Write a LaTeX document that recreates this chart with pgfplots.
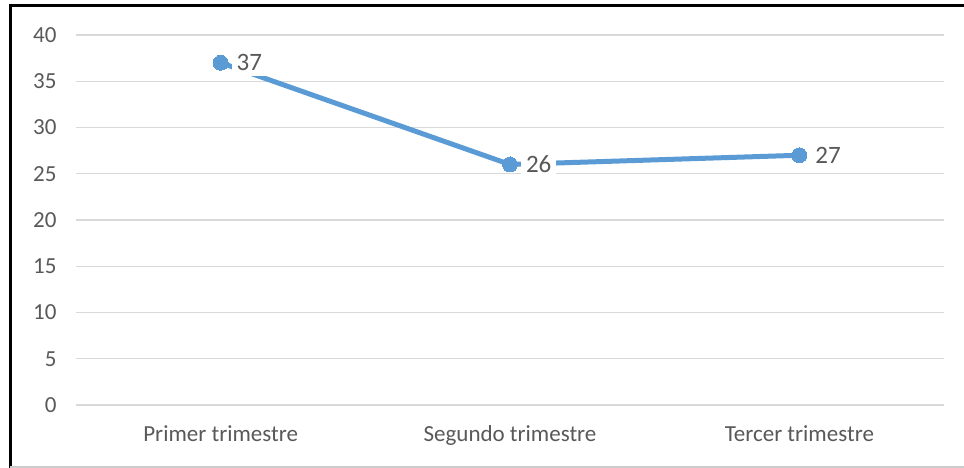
\documentclass[border=0pt]{standalone}
\usepackage{pgfplots}
\pgfplotsset{compat=1.18}
\usepackage{fontspec}
\setmainfont{Carlito}
\definecolor{linec}{HTML}{5B9BD5}
\definecolor{txt}{HTML}{595959}
\definecolor{gridc}{HTML}{D9D9D9}
\begin{document}
\begin{tikzpicture}[x=1pt,y=1pt]
\path[use as bounding box] (0,0) rectangle (964,468);
\fill[white] (0,0) rectangle (964,468);
\draw[black, line width=3pt] (10,0) -- (10,462) -- (964,462);
\draw[gray!40, line width=1.5pt] (10,1) -- (964,1);
\begin{axis}[
  at={(76pt,63pt)}, anchor=south west,
  scale only axis, width=868pt, height=370pt,
  xmin=-0.5, xmax=2.5, ymin=0, ymax=40,
  xtick={0,1,2},
  xticklabels={Primer trimestre, Segundo trimestre, Tercer trimestre},
  ytick={0,5,...,40},
  axis line style={draw=none},
  major tick length=0pt,
  ymajorgrids, grid style={gridc, line width=1.2pt},
  /pgf/number format/assume math mode=true,
  tick label style={font=\fontsize{23}{27}\selectfont, text=txt},
  yticklabel style={xshift=-16pt},
  xticklabel style={yshift=-17pt},
  clip=false,
]
\addplot[color=linec, line width=5pt, mark=*, mark size=7.5pt,
  mark options={fill=linec, draw=linec, line width=0pt},
  nodes near coords,
  every node near coord/.style={anchor=west, xshift=11pt, fill=white, inner sep=5pt,
    font=\fontsize{25}{29}\selectfont, text=txt},
] coordinates {(0,37) (1,26) (2,27)};
\end{axis}
\end{tikzpicture}
\end{document}
